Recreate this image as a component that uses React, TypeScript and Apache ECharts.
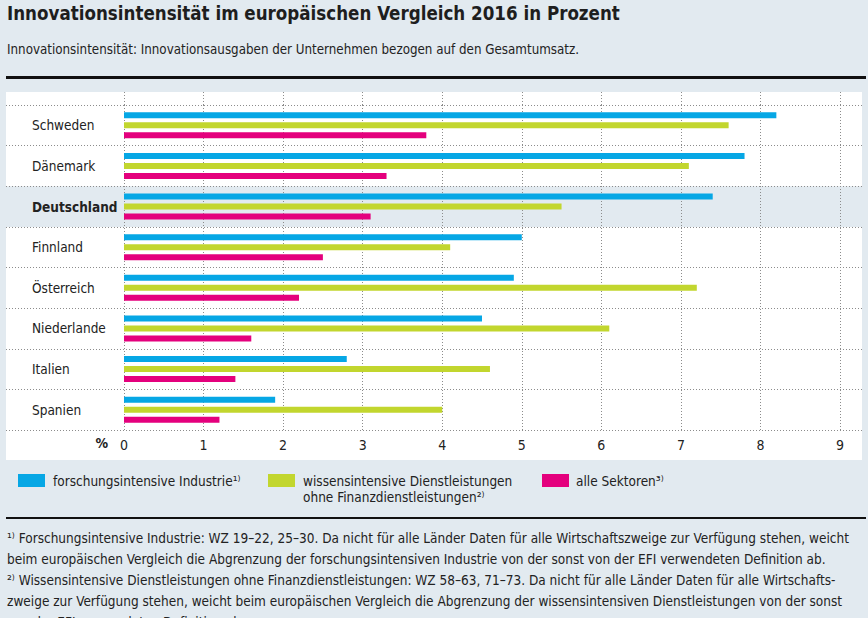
import React, { useEffect, useRef } from 'react';
import * as echarts from 'echarts';

const FONT = "'DejaVu Sans Condensed', 'Liberation Sans Narrow', 'Roboto', sans-serif";
const TEXT = '#222222';
const BG = '#e2eaf0';

const countries = ['Schweden', 'Dänemark', 'Deutschland', 'Finnland', 'Österreich', 'Niederlande', 'Italien', 'Spanien'];
const industrie = [8.2, 7.8, 7.4, 5.0, 4.9, 4.5, 2.8, 1.9];
const dienstleistungen = [7.6, 7.1, 5.5, 4.1, 7.2, 6.1, 4.6, 4.0];
const alleSektoren = [3.8, 3.3, 3.1, 2.5, 2.2, 1.6, 1.4, 1.2];
const highlighted = 'Deutschland';

const seriesNames = ['forschungsintensive Industrie', 'wissensintensive Dienstleistungen ohne Finanzdienstleistungen', 'alle Sektoren'];
const colors = ['#06a7e5', '#c2d62e', '#e4007d'];

const title = 'Innovationsintensität im europäischen Vergleich 2016 in Prozent';
const subtitle = 'Innovationsintensität: Innovationsausgaben der Unternehmen bezogen auf den Gesamtumsatz.';
const footnotes = [
  '¹⁾ Forschungsintensive Industrie: WZ 19–22, 25–30. Da nicht für alle Länder Daten für alle Wirtschaftszweige zur Verfügung stehen, weicht',
  'beim europäischen Vergleich die Abgrenzung der forschungsintensiven Industrie von der sonst von der EFI verwendeten Definition ab.',
  '²⁾ Wissensintensive Dienstleistungen ohne Finanzdienstleistungen: WZ 58–63, 71–73. Da nicht für alle Länder Daten für alle Wirtschafts-',
  'zweige zur Verfügung stehen, weicht beim europäischen Vergleich die Abgrenzung der wissensintensiven Dienstleistungen von der sonst',
  'von der EFI verwendeten Definition ab.',
];

export default function App() {
  const ref = useRef<HTMLDivElement>(null);
  useEffect(() => {
    document.body.style.margin = '0';
    const chart = echarts.init(ref.current!, null, { renderer: 'svg' });
    const dotted = { color: '#8c8c8c', width: 1, type: [1, 2] };
    const xCommon = {
      type: 'value', min: 0, max: 9, interval: 1,
      axisLine: { show: false }, axisTick: { show: false },
      splitLine: { show: true, lineStyle: dotted },
    };
    const legendText = (x: number, y: number, text: string) => ({
      type: 'text', x, y, scaleX: 1.0,
      style: { text, font: `13.5px ${FONT}`, fill: TEXT, verticalAlign: 'middle' },
    });
    const option = {
      animation: false,
      backgroundColor: BG,
      textStyle: { fontFamily: FONT },
      grid: [
        { left: 124, right: 28, top: 105, bottom: 188 },
        { left: 124, right: 28, top: 92, height: 13 },
        { left: 6, right: 6, top: 105, bottom: 188 },
      ],
      xAxis: [
        { ...xCommon, gridIndex: 0, axisLabel: { color: TEXT, fontSize: 14, margin: 8, fontFamily: FONT } },
        { ...xCommon, gridIndex: 1, axisLabel: { show: false } },
        { type: 'value', gridIndex: 2, min: 0, max: 1, show: false },
      ],
      yAxis: [
        {
          type: 'category', gridIndex: 0, data: countries, inverse: true,
          axisLine: { show: false }, axisTick: { show: false }, splitLine: { show: false },
          axisLabel: {
            align: 'left', margin: 92, fontSize: 13.5, color: TEXT, fontFamily: FONT,
            formatter: (v: string) => (v === highlighted ? `{b|${v}}` : v),
            rich: { b: { fontWeight: 'bold', fontSize: 13.5, color: TEXT, fontFamily: FONT } },
          },
        },
        { type: 'category', gridIndex: 1, data: [''], show: false },
        {
          type: 'category', gridIndex: 2, data: countries, inverse: true, z: -1,
          axisLine: { show: false }, axisTick: { show: false }, axisLabel: { show: false },
          splitLine: { show: true, lineStyle: dotted },
          splitArea: { show: true, areaStyle: { color: countries.map((c) => (c === highlighted ? BG : 'rgba(255,255,255,0)')) } },
        },
      ],
      series: [industrie, dienstleistungen, alleSektoren].map((d, i) => ({
        type: 'bar', name: seriesNames[i], data: d, xAxisIndex: 0, yAxisIndex: 0,
        barWidth: 6, barGap: '67%', itemStyle: { color: colors[i] },
      })),
      graphic: [
        { type: 'rect', z: -100, shape: { x: 6, y: 92, width: 856, height: 368 }, style: { fill: '#ffffff' } },
        { type: 'text', x: 7, y: 13, scaleX: 0.93, style: { text: title, font: `bold 20px ${FONT}`, fill: '#1e1e1e', verticalAlign: 'middle' } },
        { type: 'text', x: 7, y: 49, scaleX: 0.947, style: { text: subtitle, font: `14px ${FONT}`, fill: TEXT, verticalAlign: 'middle' } },
        { type: 'line', shape: { x1: 6, y1: 77.5, x2: 866, y2: 77.5 }, style: { stroke: '#111', lineWidth: 3 } },
        { type: 'text', x: 108, y: 443, style: { text: '%', font: `bold 14px ${FONT}`, fill: TEXT, align: 'right', verticalAlign: 'middle' } },
        { type: 'rect', shape: { x: 18, y: 474, width: 27, height: 13 }, style: { fill: colors[0] } },
        legendText(53, 481, 'forschungsintensive Industrie¹⁾'),
        { type: 'rect', shape: { x: 268, y: 474, width: 27, height: 13 }, style: { fill: colors[1] } },
        legendText(303, 481, 'wissensintensive Dienstleistungen'),
        legendText(303, 497, 'ohne Finanzdienstleistungen²⁾'),
        { type: 'rect', shape: { x: 542, y: 474, width: 27, height: 13 }, style: { fill: colors[2] } },
        legendText(576, 481, 'alle Sektoren³⁾'),
        { type: 'line', shape: { x1: 6, y1: 518, x2: 866, y2: 518 }, style: { stroke: '#111', lineWidth: 2 } },
        ...footnotes.map((t, i) => ({
          type: 'text', x: 7, y: 538 + i * 21, scaleX: 0.965,
          style: { text: t, font: `14px ${FONT}`, fill: TEXT, verticalAlign: 'middle' },
        })),
      ],
    };
    chart.setOption(option as any);
    return () => chart.dispose();
  }, []);
  return <div ref={ref} style={{ width: 868, height: 618 }} />;
}
